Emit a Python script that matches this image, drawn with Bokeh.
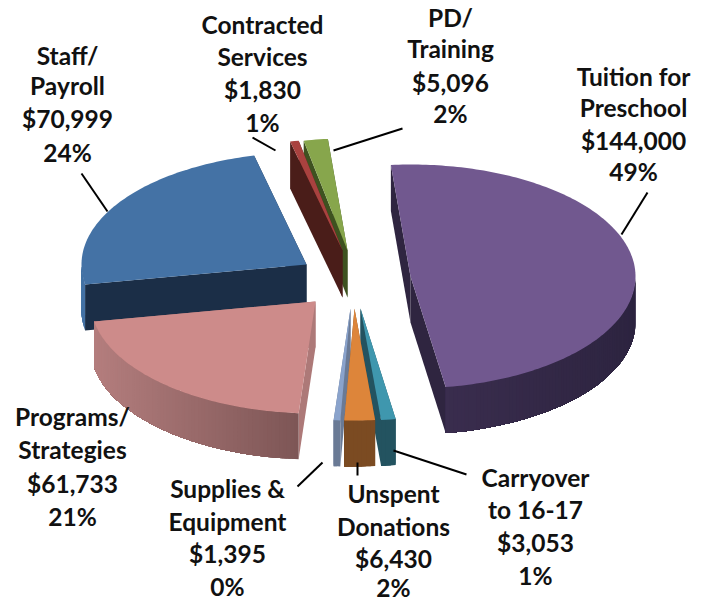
import math
from bokeh.plotting import figure
from bokeh.models import Range1d
from bokeh.core.properties import value
from bokeh.embed import file_html
from bokeh.resources import INLINE

# ---- data, clockwise from the first slice ----
names = [["Tuition for", "Preschool"], ["Carryover", "to 16-17"], ["Unspent", "Donations"],
         ["Supplies &", "Equipment"], ["Programs/", "Strategies"], ["Staff/", "Payroll"],
         ["Contracted", "Services"], ["PD/", "Training"]]
amounts = [144000, 3053, 6430, 1395, 61733, 70999, 1830, 5096]

# ---- layout and style, one entry per slice ----
apex_x = [410, 360, 354, 350, 315, 306, 342, 347]
apex_y = [276, 308, 308, 308, 301, 264, 250, 250]
depth = [46, 46, 46, 46, 46, 46, 47, 47]
top_col = ["#71588f", "#3f97ae", "#dd853a", "#8aa3cc", "#cd8b8a", "#4472a5", "#a9423f", "#87a64c"]
wall_col = ["#2f2540", "#235360", "#7b4b22", "#6a7a95", "#ad7978", "#1b2e47", "#4a1d19", "#3e5220"]
rim_left = ["#3a2d4e", "#235360", "#7b4b22", "#6a7a95", "#b47e7e", "#4472a5", "#4a1d19", "#3e5220"]
rim_right = ["#2d2440", "#235360", "#7b4b22", "#6a7a95", "#7e5656", "#4472a5", "#4a1d19", "#3e5220"]
draw_order = [5, 4, 7, 6, 0, 3, 1, 2]
label_x = [633, 535, 393, 227, 72, 67, 262, 450]
label_y = [[76, 107, 140, 171], [477, 509, 542, 575], [493, 526, 558, 587], [488, 521, 553, 586],
           [416, 449, 483, 516], [55, 85, 118, 152], [24, 56, 89, 122], [17, 48, 82, 113]]
leader_x = [[647, 621], [393, 466], [357, 357], [322, 297], [], [81, 107], [252, 275], [333, 402]]
leader_y = [[192, 234], [450, 474], [462, 475], [462, 486], [], [173, 211], [137, 150], [150, 128]]
start_angle = -5.0
rx, ry = 225.0, 112.0


def mix(a, b, t):
    ca = [int(a[i:i + 2], 16) for i in (1, 3, 5)]
    cb = [int(b[i:i + 2], 16) for i in (1, 3, 5)]
    return "#%02x%02x%02x" % tuple(round(u + (v - u) * t) for u, v in zip(ca, cb))


total = sum(amounts)
spans = []
a = start_angle
for v in amounts:
    spans.append((a, a + v / total * 360))
    a += v / total * 360


def rim_pt(i, deg):
    r = math.radians(deg)
    return apex_x[i] + rx * math.sin(r), apex_y[i] - ry * math.cos(r)


xs, ys, fills = [], [], []


def add(px, py, col):
    xs.append(px)
    ys.append(py)
    fills.append(col)


for i in draw_order:
    a0, a1 = spans[i]
    d = depth[i]
    n = max(2, int((a1 - a0) / 1.0))
    degs = [a0 + (a1 - a0) * k / n for k in range(n + 1)]
    pts = [rim_pt(i, g) for g in degs]
    ax, ay = apex_x[i], apex_y[i]
    walls = sorted([pts[0], pts[-1]], key=lambda q: q[1])
    for (qx, qy) in walls:
        add([ax, qx, qx, ax], [ay, qy, qy + d, ay + d], wall_col[i])
    front = [k for k in range(n) if 90 < (degs[k] + degs[k + 1]) / 2 < 270]
    if front:
        xmin = min(min(pts[k][0], pts[k + 1][0]) for k in front)
        xmax = max(max(pts[k][0], pts[k + 1][0]) for k in front)
        # overlapping bands, each reaching to the far end of the rim, so that no seams show
        for k in front:
            rest = pts[k:front[-1] + 2]
            t = (pts[k][0] - xmin) / max(1.0, xmax - xmin)
            px = [q[0] for q in rest] + [q[0] for q in reversed(rest)]
            py = [q[1] for q in rest] + [q[1] + d for q in reversed(rest)]
            add(px, py, mix(rim_left[i], rim_right[i], t))
    add([ax] + [q[0] for q in pts], [ay] + [q[1] for q in pts], top_col[i])

p = figure(width=710, height=601, output_backend="svg", toolbar_location=None,
           x_range=Range1d(0, 710), y_range=Range1d(601, 0), min_border=0)
p.axis.visible = False
p.grid.visible = False
p.outline_line_color = None
p.background_fill_color = "white"
p.border_fill_color = "white"

p.patches(xs, ys, fill_color=fills, line_color=None)

for lx, ly in zip(leader_x, leader_y):
    if lx:
        p.line(lx, ly, line_color="black", line_width=2)

tx, ty, tt = [], [], []
for i, nm in enumerate(names):
    lines = nm + ["${:,}".format(amounts[i]), "{:.0f}%".format(amounts[i] / total * 100)]
    for yy, s in zip(label_y[i], lines):
        tx.append(label_x[i])
        ty.append(yy)
        tt.append(s)
p.text(tx, ty, text=tt, text_font=value("Lato"), text_font_size="24.5px", text_font_style="bold",
       text_color="#111111", text_align="center", text_baseline="middle")

open("out.html", "w").write(file_html(p, INLINE))
